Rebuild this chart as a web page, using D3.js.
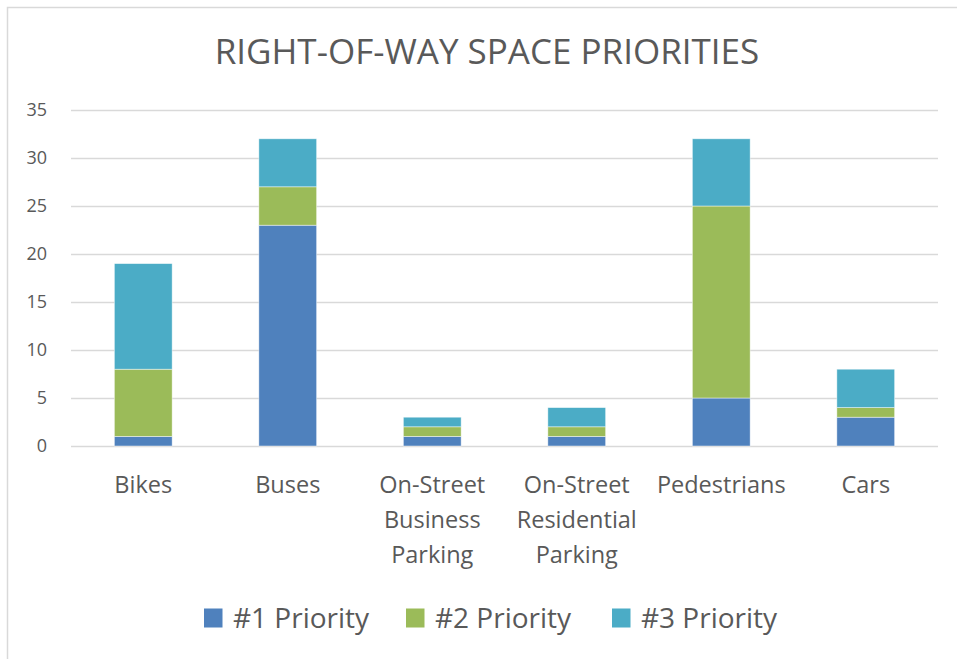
<!DOCTYPE html>
<html>
<head>
<meta charset="utf-8">
<script src="https://cdn.jsdelivr.net/npm/d3@7"></script>
<style>
  html, body { margin: 0; padding: 0; background: #fff; }
  svg { display: block; font-family: "Open Sans", "Noto Sans", sans-serif; }
</style>
</head>
<body>
<svg id="chart" width="957" height="659"></svg>
<script>
// Survey responses: how many people ranked each use of street space 1st, 2nd or 3rd
const categories = [
  ["Bikes"],
  ["Buses"],
  ["On-Street", "Business", "Parking"],
  ["On-Street", "Residential", "Parking"],
  ["Pedestrians"],
  ["Cars"]
];
const seriesNames = ["#1 Priority", "#2 Priority", "#3 Priority"];
const priority1 = [1, 23, 1, 1, 5, 3];
const priority2 = [7, 4, 1, 1, 20, 1];
const priority3 = [11, 5, 1, 2, 7, 4];
const seriesColors = ["#4F81BD", "#9BBB59", "#4BACC6"];
const yTicks = [0, 5, 10, 15, 20, 25, 30, 35];
const chartTitle = "RIGHT-OF-WAY SPACE PRIORITIES";

const svg = d3.select("#chart");
const W = 957, H = 659;
const margin = { left: 71, right: 19, top: 110, bottom: 213 };
const innerW = W - margin.left - margin.right;
const innerH = H - margin.top - margin.bottom;

// Outer chart frame
svg.append("rect")
  .attr("x", 7.5).attr("y", 7.5)
  .attr("width", W + 10).attr("height", H + 10)
  .attr("fill", "#fff").attr("stroke", "#d9d9d9").attr("stroke-width", 1.5);

// Title
svg.append("text")
  .attr("x", 487).attr("y", 64)
  .attr("text-anchor", "middle")
  .attr("font-size", 35)
  .attr("fill", "#595959")
  .text(chartTitle);

const keys = categories.map((c, i) => i);
const rows = keys.map(i => ({ idx: i, s0: priority1[i], s1: priority2[i], s2: priority3[i] }));

const x = d3.scaleBand().domain(keys).range([0, innerW]).paddingInner(0.6).paddingOuter(0.3);
const y = d3.scaleLinear().domain([0, 35]).range([innerH, 0]);

const g = svg.append("g").attr("transform", `translate(${margin.left},${margin.top})`);

// Gridlines and value axis
const yAxis = d3.axisLeft(y).tickValues(yTicks).tickSize(-innerW).tickPadding(24);
const yg = g.append("g").call(yAxis);
yg.select(".domain").remove();
yg.selectAll(".tick line").attr("stroke", "#d9d9d9").attr("stroke-width", 1.5);
yg.selectAll(".tick text").attr("font-size", 18).attr("fill", "#595959")
  .attr("font-family", "\"Open Sans\", sans-serif");

// Stacked bars
const stack = d3.stack().keys(["s0", "s1", "s2"]);
const layers = stack(rows);
g.selectAll("g.layer").data(layers).join("g")
  .attr("class", "layer")
  .attr("fill", (d, i) => seriesColors[i])
  .selectAll("rect").data(d => d).join("rect")
  .attr("x", d => x(d.data.idx))
  .attr("width", x.bandwidth())
  .attr("y", d => y(d[1]))
  .attr("height", d => y(d[0]) - y(d[1]))
  .attr("stroke", "#fff").attr("stroke-width", 0.75).attr("stroke-opacity", 0.6);

// Category axis (multi-line labels)
const xAxis = d3.axisBottom(x).tickSize(0).tickFormat(() => "");
const xg = g.append("g").attr("transform", `translate(0,${innerH})`).call(xAxis);
xg.select(".domain").remove();
xg.selectAll(".tick").each(function(d) {
  const t = d3.select(this).append("text")
    .attr("text-anchor", "middle")
    .attr("font-size", 23.5)
    .attr("fill", "#595959")
    .attr("font-family", "\"Open Sans\", sans-serif");
  categories[d].forEach((line, j) => {
    t.append("tspan").attr("x", 0).attr("y", 47 + j * 35).text(line);
  });
});

// Legend
const legendX = [204, 406, 612];
const legend = svg.append("g");
seriesNames.forEach((name, i) => {
  const lg = legend.append("g").attr("transform", `translate(${legendX[i]},0)`);
  lg.append("rect").attr("x", 0).attr("y", 608.5).attr("width", 18.5).attr("height", 19)
    .attr("fill", seriesColors[i]);
  lg.append("text").attr("x", 29).attr("y", 628)
    .attr("font-size", 28).attr("fill", "#595959")
    .text(name);
});
</script>
</body>
</html>
